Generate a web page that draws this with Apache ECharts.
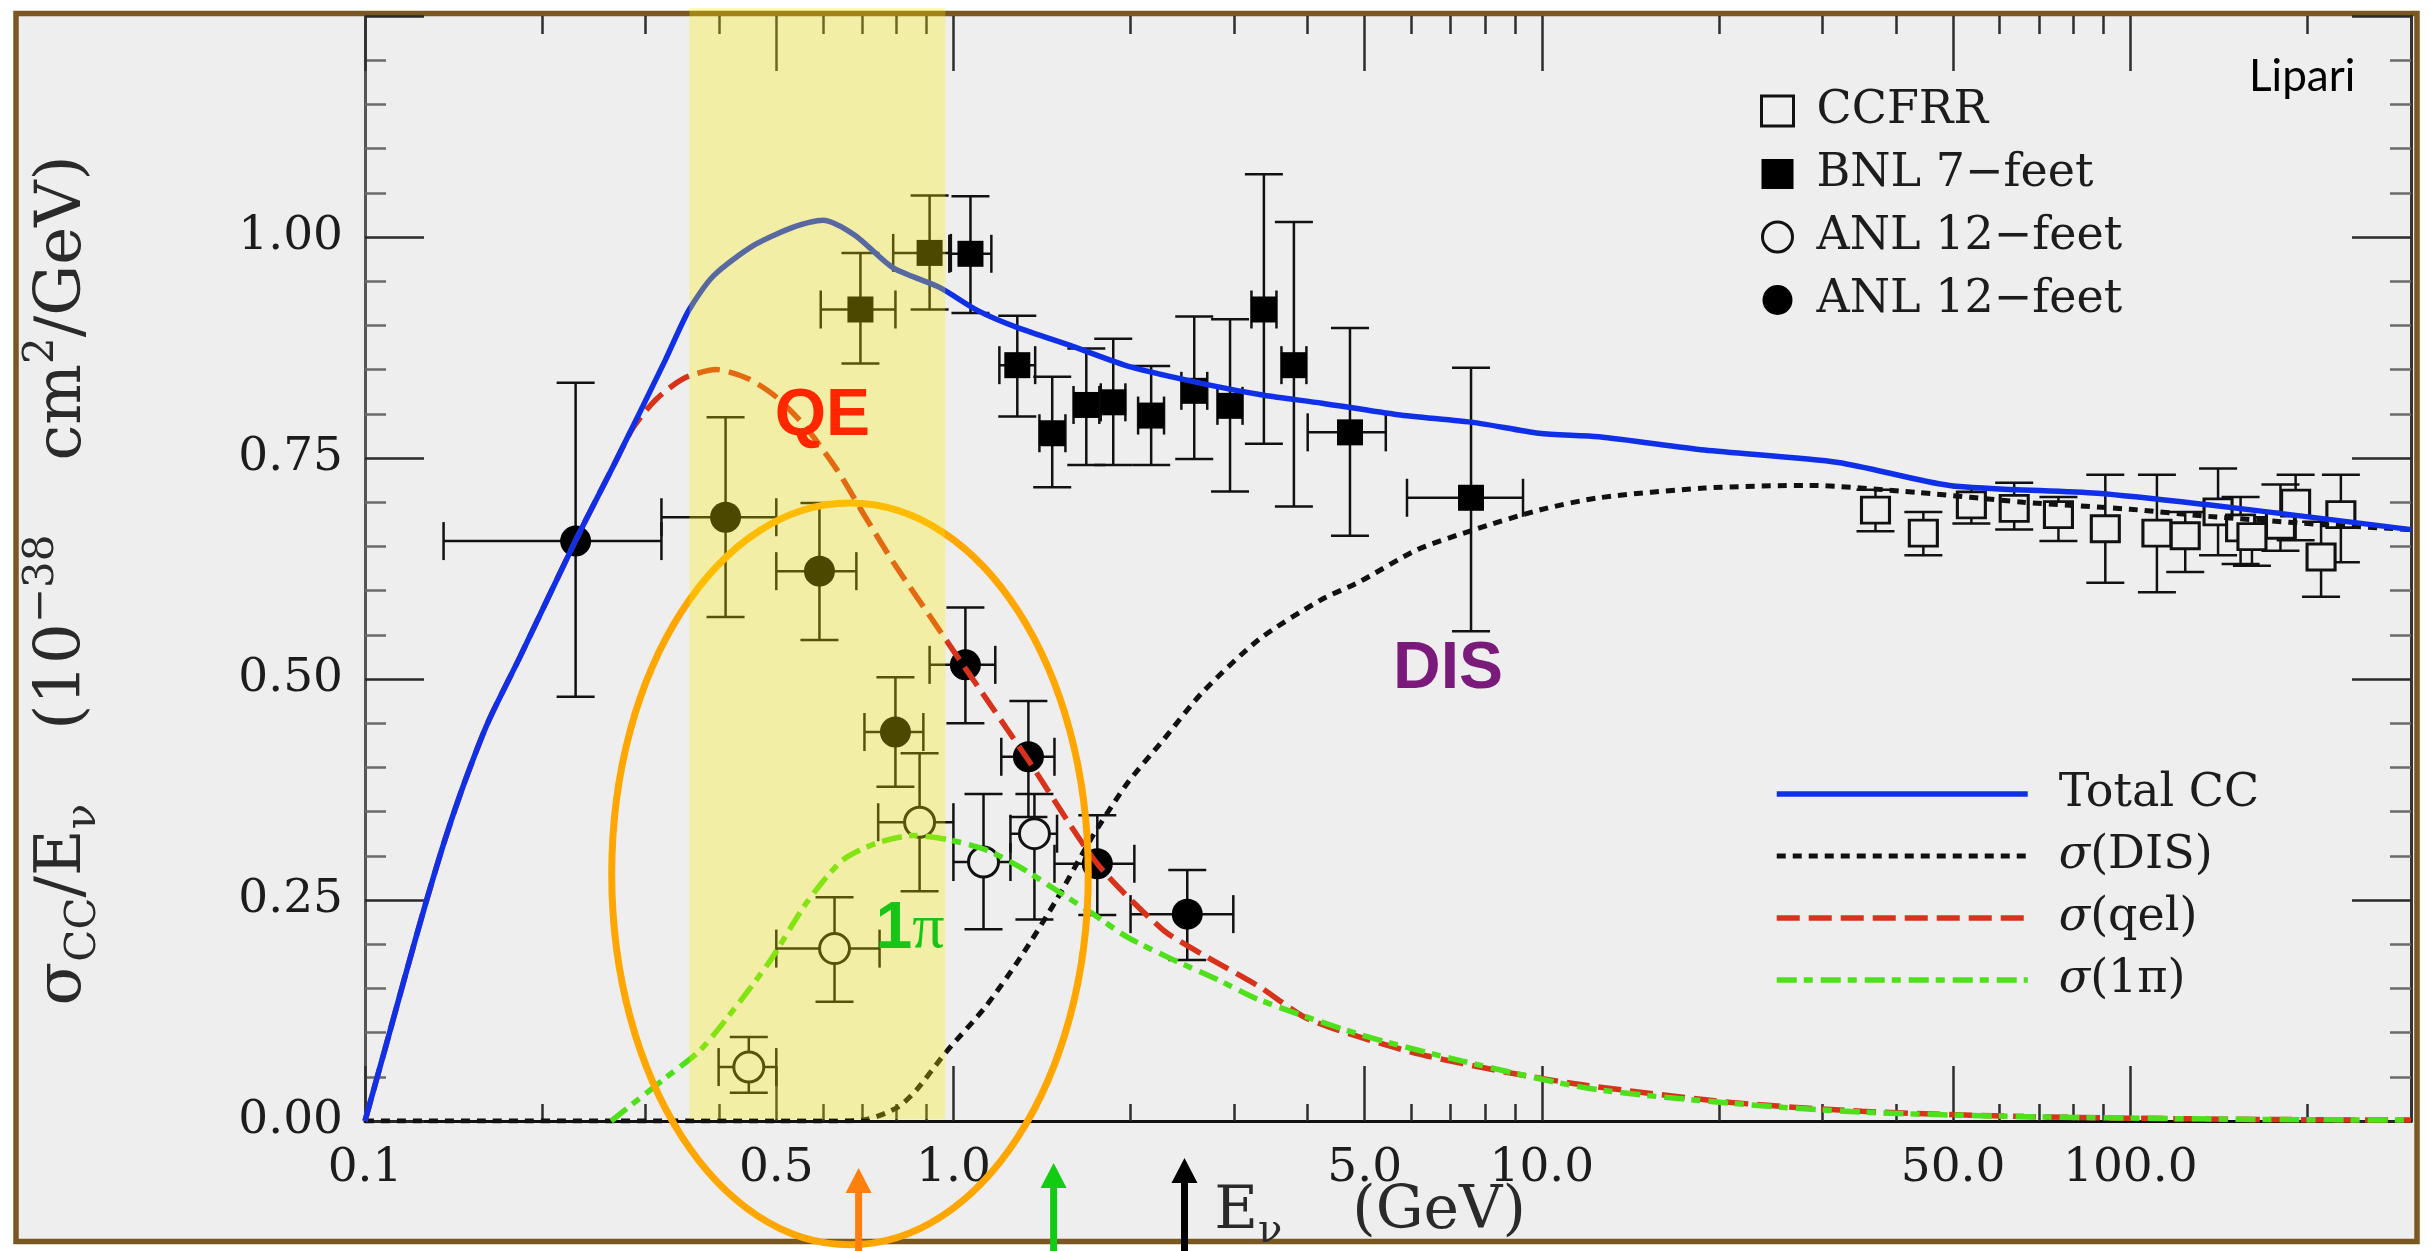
<!DOCTYPE html>
<html>
<head>
<meta charset="utf-8">
<title>Charged-current neutrino cross section</title>
<style>
  html, body { margin: 0; padding: 0; background: #ffffff; }
  #chart { width: 2433px; height: 1251px; }
</style>
<script src="https://cdn.jsdelivr.net/npm/echarts@6/dist/echarts.min.js"></script>
</head>
<body>
<div id="chart"></div>
<script>
// ---------------------------------------------------------------
// sigma_CC / E_nu  (10^-38 cm^2 / GeV)  versus  E_nu (GeV)
// Measurements: [E, value, valueLow, valueHigh, eLow, eHigh]
// ---------------------------------------------------------------
const ccfrr = [
  [36.9, 0.691, 0.667, 0.714, null, null],
  [44.5, 0.665, 0.640, 0.689, null, null],
  [53.7, 0.697, 0.676, 0.717, null, null],
  [63.5, 0.693, 0.669, 0.722, null, null],
  [75.5, 0.686, 0.656, 0.706, null, null],
  [90.7, 0.670, 0.609, 0.731, null, null],
  [111, 0.665, 0.598, 0.731, null, null],
  [124, 0.662, 0.621, 0.689, null, null],
  [141, 0.689, 0.640, 0.738, null, null],
  [154, 0.671, 0.630, 0.706, null, null],
  [161, 0.661, 0.628, 0.683, null, null],
  [180, 0.674, 0.645, 0.720, null, null],
  [191, 0.699, 0.657, 0.731, null, null],
  [211, 0.638, 0.593, 0.678, null, null],
  [228, 0.686, 0.632, 0.731, null, null]
];

const bnl7ft = [
  [0.695, 0.918, 0.857, 0.982, 0.595, 0.797],
  [0.911, 0.982, 0.918, 1.047, 0.790, 0.990],
  [1.069, 0.981, 0.914, 1.046, 0.984, 1.160],
  [1.284, 0.855, 0.797, 0.911, 1.197, 1.377],
  [1.472, 0.778, 0.717, 0.842, 1.400, 1.550],
  [1.682, 0.810, 0.742, 0.874, 1.600, 1.770],
  [1.869, 0.813, 0.742, 0.885, 1.780, 1.960],
  [2.168, 0.798, 0.742, 0.854, 2.060, 2.280],
  [2.566, 0.826, 0.749, 0.910, 2.440, 2.700],
  [2.952, 0.809, 0.712, 0.907, 2.810, 3.100],
  [3.37, 0.918, 0.766, 1.071, 3.210, 3.540],
  [3.79, 0.855, 0.695, 1.017, 3.610, 3.980],
  [4.72, 0.779, 0.662, 0.897, 4.000, 5.430],
  [7.58, 0.705, 0.554, 0.852, 5.900, 9.290]
];

const anlOpen = [
  [0.449, 0.061, 0.032, 0.095, 0.399, 0.500],
  [0.628, 0.195, 0.135, 0.253, 0.500, 0.749],
  [0.876, 0.338, 0.260, 0.416, 0.745, 1.000],
  [1.125, 0.293, 0.217, 0.370, 1.000, 1.250],
  [1.373, 0.325, 0.228, 0.370, 1.250, 1.500]
];

const anlFilled = [
  [0.228, 0.656, 0.480, 0.835, 0.136, 0.319],
  [0.410, 0.683, 0.570, 0.796, 0.319, 0.500],
  [0.592, 0.622, 0.544, 0.699, 0.500, 0.684],
  [0.797, 0.440, 0.378, 0.502, 0.706, 0.889],
  [1.048, 0.516, 0.450, 0.581, 0.911, 1.178],
  [1.341, 0.412, 0.344, 0.475, 1.206, 1.485],
  [1.756, 0.291, 0.233, 0.346, 1.485, 2.030],
  [2.497, 0.234, 0.182, 0.284, 2.000, 2.990]
];

// Model curves: [E, value]
const totalCC = [
  [0.1, 0.0], [0.1081, 0.081], [0.1169, 0.163], [0.1264, 0.243], [0.1367, 0.318],
  [0.1478, 0.384], [0.1618, 0.451], [0.1834, 0.525], [0.2277, 0.656], [0.2657, 0.744],
  [0.324, 0.861], [0.355, 0.917], [0.391, 0.956], [0.459, 0.991], [0.539, 1.012],
  [0.60, 1.019], [0.68, 1.002], [0.79, 0.965], [0.947, 0.943], [1.098, 0.917],
  [1.279, 0.898], [1.599, 0.876], [2.0, 0.853], [2.7, 0.833], [3.37, 0.821],
  [4.23, 0.812], [5.69, 0.799], [7.69, 0.790], [9.89, 0.778], [12.5, 0.774],
  [18.9, 0.759], [31.9, 0.745], [49.3, 0.719], [87.9, 0.710], [135.6, 0.697],
  [209, 0.682], [300, 0.669]
];

const sigmaDIS = [
  [0.1, 0.0], [0.60, 0.0], [0.714, 0.002], [0.806, 0.016], [0.865, 0.035],
  [0.969, 0.077], [1.133, 0.129], [1.30, 0.185], [1.496, 0.250], [1.72, 0.321],
  [1.975, 0.382], [2.273, 0.431], [2.65, 0.485], [3.31, 0.545], [4.2, 0.589],
  [4.9, 0.61], [6.13, 0.646], [7.6, 0.668], [9.89, 0.691], [12.5, 0.705],
  [18.9, 0.716], [28.5, 0.719], [43.5, 0.711], [65.8, 0.700], [100, 0.692],
  [135.6, 0.684], [209, 0.675], [300, 0.669]
];

const sigmaQel = [
  [0.1, 0.0], [0.1081, 0.081], [0.1169, 0.163], [0.1264, 0.243], [0.1367, 0.318],
  [0.1478, 0.384], [0.1618, 0.451], [0.1834, 0.525], [0.2277, 0.656], [0.2657, 0.744],
  [0.286, 0.785], [0.312, 0.816], [0.348, 0.840], [0.3955, 0.850], [0.447, 0.840],
  [0.50, 0.819], [0.561, 0.785], [0.635, 0.736], [0.709, 0.683], [0.794, 0.630],
  [0.921, 0.567], [1.048, 0.512], [1.341, 0.408], [1.756, 0.291], [2.273, 0.216],
  [2.69, 0.186], [3.31, 0.152], [4.02, 0.115], [6.0, 0.078], [8.9, 0.054],
  [12.0, 0.040], [21, 0.021], [35, 0.011], [66, 0.005], [150, 0.002], [300, 0.001]
];

const sigma1pi = [
  [0.262, 0.0], [0.32, 0.046], [0.371, 0.080], [0.4266, 0.129], [0.489, 0.182],
  [0.563, 0.247], [0.648, 0.295], [0.745, 0.315], [0.855, 0.323], [0.984, 0.318],
  [1.133, 0.307], [1.30, 0.287], [1.496, 0.261], [1.72, 0.235], [1.975, 0.208],
  [2.37, 0.182], [2.81, 0.160], [3.31, 0.137], [4.9, 0.098], [7.3, 0.068],
  [12, 0.037], [21, 0.020], [35, 0.010], [66, 0.005], [150, 0.002], [300, 0.001]
];

// Axis ticks
const xMajorTicks = [0.1, 0.5, 1, 5, 10, 50, 100];
const xMinorTicks = [0.2, 0.3, 0.4, 0.6, 0.7, 0.8, 0.9, 2, 3, 4, 6, 7, 8, 9,
                     20, 30, 40, 60, 70, 80, 90, 200];
const xRange = [0.1, 300];
const yRange = [0, 1.25];

// Highlighted energy window and marked energies
const shadedBand = [[0.356, 0.969]];
const markedEnergies = [0.69, 1.48, 2.47];

// ---------------------------------------------------------------
const SERIF = '"DejaVu Serif", serif';
const INK = '#1c1c1c';

const chart = echarts.init(document.getElementById('chart'), null, { renderer: 'canvas' });

function makeX(position, ticks, len, extra) {
  return Object.assign({
    type: 'log', logBase: 10, min: xRange[0], max: xRange[1], position,
    splitLine: { show: false },
    axisLine: { show: false, onZero: false },
    axisLabel: { show: false },
    axisTick: { show: true, inside: true, length: len, customValues: ticks,
                lineStyle: { color: '#2e2e2e', width: 2.5 } },
    minorTick: { show: false }
  }, extra || {});
}

function makeY(position, extra) {
  return Object.assign({
    type: 'value', min: yRange[0], max: yRange[1], interval: 0.25, position,
    splitLine: { show: false },
    axisLine: { show: true, onZero: false, lineStyle: { color: '#555555', width: 3 } },
    axisTick: { show: true, inside: true, length: 59, lineStyle: { color: '#2a2a2a', width: 2.5 } },
    minorTick: { show: true, splitNumber: 5, length: 21, lineStyle: { color: '#6a6a6a', width: 2.5 } },
    axisLabel: { show: false }
  }, extra || {});
}

function renderErrorBars(params, api) {
  const e = api.value(0), v = api.value(1);
  const lo = api.value(2), hi = api.value(3), el = api.value(4), eh = api.value(5);
  const cap = 19;
  const kids = [];
  const seg = (x1, y1, x2, y2) => kids.push({
    type: 'line', shape: { x1, y1, x2, y2 },
    style: { stroke: '#111111', lineWidth: 2.5 }
  });
  if (isFinite(lo) && isFinite(hi) && lo !== null && hi !== null) {
    const a = api.coord([e, lo]), b = api.coord([e, hi]);
    seg(a[0], a[1], b[0], b[1]);
    seg(a[0] - cap, a[1], a[0] + cap, a[1]);
    seg(b[0] - cap, b[1], b[0] + cap, b[1]);
  }
  if (isFinite(el) && isFinite(eh) && el > 0 && eh > 0) {
    const a = api.coord([el, v]), b = api.coord([eh, v]);
    seg(a[0], a[1], b[0], b[1]);
    seg(a[0], a[1] - cap, a[0], a[1] + cap);
    seg(b[0], b[1] - cap, b[0], b[1] + cap);
  }
  return { type: 'group', children: kids };
}

function errorBars(data) {
  return { type: 'custom', data, renderItem: renderErrorBars, encode: { x: 0, y: 1 },
           z: 3, silent: true, clip: false, xAxisIndex: 0, yAxisIndex: 0 };
}

const pts = d => d.map(p => [p[0], p[1]]);

const axisNameRich = {
  m:  { fontFamily: SERIF, fontSize: 64, lineHeight: 84, color: '#2a2a2a' },
  sb: { fontFamily: SERIF, fontSize: 42, lineHeight: 54, verticalAlign: 'bottom', color: '#2a2a2a' },
  sp: { fontFamily: SERIF, fontSize: 42, lineHeight: 48, verticalAlign: 'top', color: '#2a2a2a' },
  gp: { width: 74, fontSize: 64, lineHeight: 84 }
};
const xNameRich = {
  m:  { fontFamily: SERIF, fontSize: 60, lineHeight: 80, color: '#2a2a2a' },
  sb: { fontFamily: SERIF, fontSize: 40, lineHeight: 52, verticalAlign: 'bottom', color: '#2a2a2a' },
  gp: { width: 70, fontSize: 60, lineHeight: 80 }
};

const option = {
  animation: false,
  backgroundColor: '#ffffff',
  textStyle: { fontFamily: SERIF },
  title: {
    text: 'Lipari', left: 2244, top: 50,
    textStyle: { fontFamily: 'Lato', fontSize: 44, fontWeight: 'normal', color: '#000000' }
  },
  grid: { left: 365, right: 22, top: 16, bottom: 130, containLabel: false, outerBoundsMode: 'none' },
  xAxis: [
    makeX('bottom', xMajorTicks, 55, {
      axisLine: { show: true, onZero: false, lineStyle: { color: '#111111', width: 3 } },
      axisLabel: { show: true, customValues: xMajorTicks, margin: 24,
                   formatter: v => Number(v).toFixed(1),
                   fontFamily: SERIF, fontSize: 47, color: INK },
      name: '{m|E}{sb|ν}{gp| }{m|(GeV)}',
      nameLocation: 'middle', nameGap: 51, nameMoveOverlap: false,
      nameTextStyle: { rich: xNameRich, padding: [0, 36, 0, 0] }
    }),
    makeX('bottom', xMinorTicks, 17),
    makeX('top', xMajorTicks, 55),
    makeX('top', xMinorTicks, 18)
  ],
  yAxis: [
    makeY('left', {
      axisLabel: { show: true, margin: 22, fontFamily: SERIF, fontSize: 47, color: INK,
                   formatter: v => (v > 1.001 ? '' : Number(v).toFixed(2)) },
      name: '{m|σ}{sb|CC}{m|/E}{sb|ν}{gp| }{m|(10}{sp|−38}{gp| }{m|cm}{sp|2}{m|/GeV)}',
      nameLocation: 'middle', nameGap: 260, nameRotate: 90, nameMoveOverlap: false,
      nameTextStyle: { rich: axisNameRich, padding: [0, 24, 0, 0] }
    }),
    makeY('right', { axisLine: { show: true, onZero: false, lineStyle: { color: '#333333', width: 3 } } })
  ],
  legend: [
    {
      orient: 'vertical', left: 1755, top: 81, itemWidth: 32, itemHeight: 30, itemGap: 13,
      selectedMode: false, symbolKeepAspect: true,
      textStyle: { fontFamily: SERIF, fontSize: 46, color: INK, lineHeight: 50, padding: [0, 0, 0, 18] },
      formatter: name => name.replace(/ \((open|filled)\)$/, ''),
      data: [
        { name: 'CCFRR', itemStyle: { borderWidth: 3, opacity: 1 } },
        { name: 'BNL 7−feet', itemStyle: { opacity: 1 } },
        { name: 'ANL 12−feet (open)', itemStyle: { borderWidth: 3, opacity: 1 } },
        { name: 'ANL 12−feet (filled)', itemStyle: { opacity: 1 } }
      ]
    },
    {
      orient: 'vertical', left: 1769, top: 764, itemWidth: 251, itemHeight: 30, itemGap: 12,
      selectedMode: false,
      itemStyle: { color: 'rgba(0,0,0,0)', borderColor: 'rgba(0,0,0,0)', borderWidth: 0 },
      textStyle: { fontFamily: SERIF, fontSize: 46, color: INK, lineHeight: 50, padding: [0, 0, 0, 26],
                   rich: { i: { fontFamily: SERIF, fontStyle: 'italic', fontSize: 46, color: INK, lineHeight: 50 } } },
      formatter: name => name.charAt(0) === 'σ' ? '{i|σ}' + name.slice(1) : name,
      data: [
        { name: 'Total CC', lineStyle: { width: 5.5, type: 'solid', color: '#1030e8' } },
        { name: 'σ(DIS)', lineStyle: { width: 5, type: [9, 7], color: '#111111' } },
        { name: 'σ(qel)', lineStyle: { width: 5.5, type: [23, 9], color: '#d8321a' } },
        { name: 'σ(1π)', lineStyle: { width: 5.5, type: [20, 7, 9, 8], color: '#4ee01a' } }
      ]
    }
  ],
  series: [
    errorBars(ccfrr), errorBars(bnl7ft), errorBars(anlOpen), errorBars(anlFilled),
    { name: 'CCFRR', type: 'scatter', data: pts(ccfrr), symbol: 'rect', symbolSize: [28, 26],
      itemStyle: { color: '#eeeeee', borderColor: '#111111', borderWidth: 3, opacity: 1 }, z: 4, silent: true },
    { name: 'BNL 7−feet', type: 'scatter', data: pts(bnl7ft), symbol: 'rect', symbolSize: 26,
      itemStyle: { color: '#000000', opacity: 1 }, z: 4, silent: true },
    { name: 'ANL 12−feet (open)', type: 'scatter', data: pts(anlOpen), symbol: 'circle', symbolSize: 30,
      itemStyle: { color: '#eeeeee', borderColor: '#111111', borderWidth: 3, opacity: 1 }, z: 4, silent: true },
    { name: 'ANL 12−feet (filled)', type: 'scatter', data: pts(anlFilled), symbol: 'circle', symbolSize: 31,
      itemStyle: { color: '#000000', opacity: 1 }, z: 4, silent: true },

    // model curves: the total is drawn last so it lies on top where QE coincides with it
    { name: 'σ(DIS)', type: 'line', data: sigmaDIS, symbol: 'none', smooth: 0.25, color: '#111111',
      lineStyle: { color: '#111111', width: 5, type: [9, 7] }, z: 5, silent: true },
    { name: 'σ(qel)', type: 'line', data: sigmaQel, symbol: 'none', smooth: 0.25, color: '#d8321a',
      lineStyle: { color: '#d8321a', width: 5.5, type: [23, 9] }, z: 5, silent: true },
    { name: 'σ(1π)', type: 'line', data: sigma1pi, symbol: 'none', smooth: 0.25, color: '#4ee01a',
      lineStyle: { color: '#4ee01a', width: 5.5, type: [20, 7, 9, 8] }, z: 5, silent: true },
    { name: 'Total CC', type: 'line', data: totalCC, symbol: 'none', smooth: 0.25, color: '#1030e8',
      lineStyle: { color: '#1030e8', width: 5.5 }, z: 5, silent: true },

    // translucent highlight of the sub-GeV window
    { type: 'custom', data: shadedBand, encode: { x: 0, y: 1 }, z: 7, silent: true, clip: false,
      renderItem: (params, api) => {
        const a = api.coord([api.value(0), yRange[0]]);
        const b = api.coord([api.value(1), yRange[1]]);
        return { type: 'rect',
                 shape: { x: a[0], y: b[1] - 8, width: b[0] - a[0], height: a[1] - b[1] + 6 },
                 style: { fill: 'rgba(254, 237, 0, 0.30)' } };
      } }
  ]
};

chart.setOption(option);

// Decorations placed from data coordinates
const toPx = (e, v) => chart.convertToPixel({ xAxisIndex: 0, yAxisIndex: 0 }, [e, v]);

const eL = toPx(0.2626, 0.28), eR = toPx(1.695, 0.28);
const eT = toPx(0.667, 0.699), eB = toPx(0.667, -0.140);

const qePos = toPx(0.497, 0.797);
const disPos = toPx(5.585, 0.51);
const piPos = toPx(0.737, 0.216);

const arrowColors = ['#ff7f0e', '#11cc11', '#000000'];
const arrowTips = [1168, 1163, 1158];
const arrows = markedEnergies.map((e, i) => {
  const x = toPx(e, 0)[0];
  const tip = arrowTips[i];
  return {
    type: 'group', z: 8, silent: true,
    children: [
      { type: 'rect', z: 8, shape: { x: x - 3.5, y: tip + 22, width: 7, height: 1251 - tip - 22 },
        style: { fill: arrowColors[i] } },
      { type: 'polygon', z: 8, shape: { points: [[x, tip], [x - 13, tip + 25], [x + 13, tip + 25]] },
        style: { fill: arrowColors[i] } }
    ]
  };
});

chart.setOption({
  graphic: [
    { type: 'rect', z: -10, silent: true,
      shape: { x: 16, y: 13.5, width: 2401, height: 1228 },
      style: { fill: '#eeeeee', stroke: '#7b5722', lineWidth: 5.5 } },
    { type: 'ellipse', z: 6, silent: true,
      shape: { cx: (eL[0] + eR[0]) / 2, cy: (eT[1] + eB[1]) / 2,
               rx: (eR[0] - eL[0]) / 2, ry: (eB[1] - eT[1]) / 2 },
      style: { fill: 'none', stroke: '#ffa600', lineWidth: 7 } },
    ...arrows,
    { type: 'text', z: 9, silent: true, x: qePos[0], y: qePos[1],
      style: { text: 'QE', fill: '#ff2600', font: 'bold 66px "Liberation Sans", Arial, sans-serif',
               align: 'left', verticalAlign: 'middle', textAlign: 'left', textVerticalAlign: 'middle' } },
    { type: 'text', z: 9, silent: true, x: disPos[0], y: disPos[1],
      style: { text: 'DIS', fill: '#7a1a7a', font: 'bold 66px "Liberation Sans", Arial, sans-serif',
               align: 'left', verticalAlign: 'middle', textAlign: 'left', textVerticalAlign: 'middle' } },
    { type: 'text', z: 9, silent: true, x: piPos[0], y: piPos[1],
      style: { text: '{a|1}{b|π}', align: 'left', verticalAlign: 'middle',
               textAlign: 'left', textVerticalAlign: 'middle',
               rich: {
                 a: { fill: '#17c417', color: '#17c417', fontFamily: '"Liberation Sans", Arial, sans-serif',
                      fontWeight: 'bold', fontSize: 66, lineHeight: 70 },
                 b: { fill: '#17c417', color: '#17c417', fontFamily: '"Liberation Serif", serif',
                      fontSize: 64, lineHeight: 70 }
               } } }
  ]
});
</script>
</body>
</html>
